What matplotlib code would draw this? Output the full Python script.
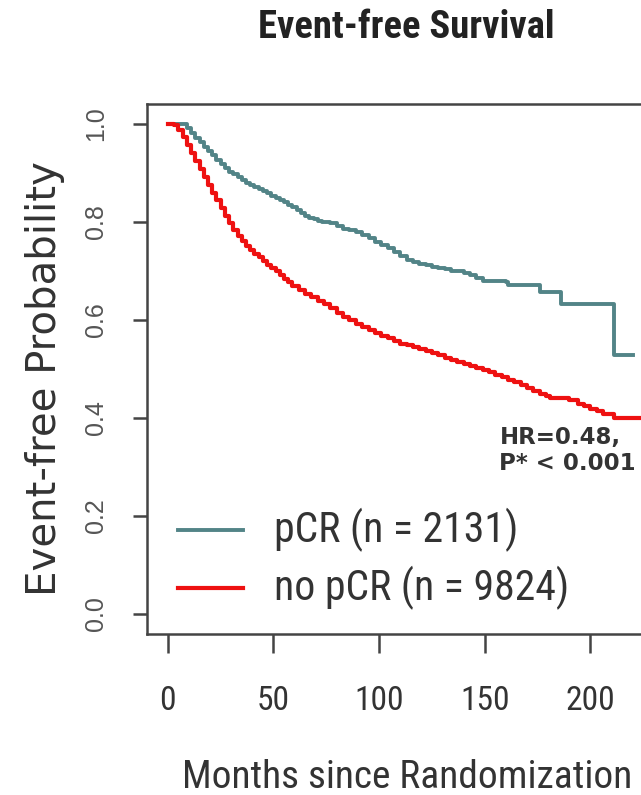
import matplotlib
matplotlib.use('Agg')
import matplotlib.pyplot as plt
from matplotlib import font_manager as fm

# Kaplan-Meier curves (months, event-free probability)
t_pcr = [0, 7, 9, 11, 13, 15, 17, 19, 21, 23, 25, 27, 29, 31, 33, 35, 37, 39, 41, 43,
         45, 47, 49, 51, 53, 55, 57, 59, 61, 63, 65, 67, 69, 71, 73, 75, 77, 80, 83,
         86, 89, 92, 95, 98, 101, 104, 107, 110, 113, 116, 119, 122, 125, 128, 131,
         134, 137, 140, 143, 146, 149, 152, 156, 160, 161, 168, 176, 181, 186, 211,
         220]
s_pcr = [1.0, 1.0, 0.991, 0.982, 0.972, 0.963, 0.954, 0.945, 0.936, 0.927, 0.918,
         0.910, 0.903, 0.897, 0.891, 0.885, 0.880, 0.875, 0.871, 0.867, 0.863, 0.859,
         0.854, 0.849, 0.845, 0.840, 0.835, 0.830, 0.824, 0.819, 0.813, 0.809, 0.806,
         0.803, 0.801, 0.799, 0.797, 0.792, 0.786, 0.783, 0.780, 0.774, 0.767, 0.760,
         0.753, 0.746, 0.738, 0.730, 0.723, 0.719, 0.715, 0.712, 0.709, 0.706, 0.704,
         0.701, 0.699, 0.696, 0.692, 0.686, 0.680, 0.680, 0.679, 0.678, 0.671, 0.671,
         0.657, 0.657, 0.632, 0.528, 0.528]

t_nopcr = [0, 3, 5, 7, 9, 11, 13, 15, 17, 19, 21, 23, 25, 27, 29, 31, 33, 35, 37, 39,
           41, 43, 45, 47, 49, 51, 53, 55, 57, 59, 62, 65, 68, 71, 74, 77, 80, 83, 86,
           89, 92, 95, 98, 101, 104, 107, 110, 113, 116, 119, 122, 125, 128, 131, 134,
           137, 140, 143, 146, 149, 152, 155, 158, 161, 164, 167, 170, 173, 176, 179,
           181, 190, 194, 197, 200, 203, 206, 211, 225]
s_nopcr = [1.0, 0.998, 0.988, 0.974, 0.957, 0.940, 0.924, 0.908, 0.892, 0.876, 0.860,
           0.844, 0.828, 0.812, 0.797, 0.784, 0.772, 0.762, 0.752, 0.743, 0.735, 0.728,
           0.720, 0.713, 0.706, 0.699, 0.691, 0.684, 0.677, 0.670, 0.661, 0.653, 0.646,
           0.639, 0.632, 0.624, 0.615, 0.607, 0.600, 0.592, 0.585, 0.579, 0.574, 0.568,
           0.563, 0.557, 0.552, 0.548, 0.544, 0.540, 0.536, 0.532, 0.528, 0.523, 0.518,
           0.515, 0.511, 0.506, 0.502, 0.497, 0.493, 0.488, 0.483, 0.478, 0.473, 0.467,
           0.462, 0.456, 0.450, 0.445, 0.440, 0.436, 0.429, 0.424, 0.419, 0.414, 0.409,
           0.399, 0.399]

labels = ['pCR (n = 2131)', 'no pCR (n = 9824)']
colors = ['#528487', '#EE1111']
xticks = [0, 50, 100, 150, 200]
yticks = [0.0, 0.2, 0.4, 0.6, 0.8, 1.0]


def pick_font(cands):
    for name in cands:
        try:
            fm.findfont(fm.FontProperties(family=name), fallback_to_default=False)
            return name
        except ValueError:
            pass
    return 'Liberation Sans'


narrow = pick_font(['Liberation Sans Narrow', 'Roboto Condensed', 'Open Sans Condensed',
                    'Noto Sans Condensed', 'Liberation Sans'])
edge = '#444444'

fig = plt.figure(figsize=(6.41, 7.95), dpi=100)
# axes run past the right edge, as in the cropped original
ax = fig.add_axes([0.2289, 0.2030, 0.8897, 0.6657])

ax.plot(t_pcr, s_pcr, drawstyle='steps-post', color=colors[0], lw=2.8, label=labels[0])
ax.plot(t_nopcr, s_nopcr, drawstyle='steps-post', color=colors[1], lw=3.0, label=labels[1])

ax.set_xlim(-10, 260)
ax.set_ylim(-0.04, 1.04)

for sp in ax.spines.values():
    sp.set_color(edge)
    sp.set_linewidth(1.8)

ax.set_xticks(xticks)
ax.set_xticklabels([str(v) for v in xticks], family=narrow, fontsize=22, color='#333333')
ax.set_yticks(yticks)
ax.set_yticklabels(['%.1f' % v for v in yticks], family='Liberation Sans', fontsize=18,
                   color='#555555', rotation=90, va='center')
ax.tick_params(axis='x', direction='out', length=14, width=1.8, color=edge, pad=23)
ax.tick_params(axis='y', direction='out', length=10, width=1.8, color=edge, pad=18)

ax.text(157, 0.333, 'HR=0.48,\nP* < 0.001', fontsize=16.5, fontweight='bold',
        family='DejaVu Sans', color='#333333', va='center', ha='left', linespacing=1.15)

leg = ax.legend(loc='center left', bbox_to_anchor=(0.055, 0.142), frameon=False,
                prop={'family': narrow, 'size': 25}, handlelength=1.87,
                handletextpad=0.9, labelspacing=0.4, borderpad=0, borderaxespad=0)
for txt in leg.get_texts():
    txt.set_color('#333333')

title = fig.text(406 / 641, 1 - 28 / 795, 'Event-free Survival', family=narrow,
                 fontweight='bold', fontsize=27, ha='center', va='center', color='#222222')
xlab = fig.text(407 / 641, 1 - 777 / 795, 'Months since Randomization', family=narrow,
                fontsize=30, ha='center', va='center', color='#333333')
fig.text(45 / 641, 1 - 378 / 795, 'Event-free Probability', family='DejaVu Sans',
         fontsize=29, rotation=90, ha='center', va='center', color='#333333')

# scale the horizontal texts so their widths match the reference (pixels)
fig.canvas.draw()
r = fig.canvas.get_renderer()
for t, target in [(title, 297), (xlab, 451)]:
    w = t.get_window_extent(r).width
    t.set_fontsize(t.get_fontsize() * target / w)
tl = ax.get_xticklabels()[2]
k = 50 / tl.get_window_extent(r).width
for t in ax.get_xticklabels():
    t.set_fontsize(t.get_fontsize() * k)
lt = leg.get_texts()[0]
k = 245 / lt.get_window_extent(r).width
for t in leg.get_texts():
    t.set_fontsize(t.get_fontsize() * k)

fig.savefig('out.png', dpi=100)
